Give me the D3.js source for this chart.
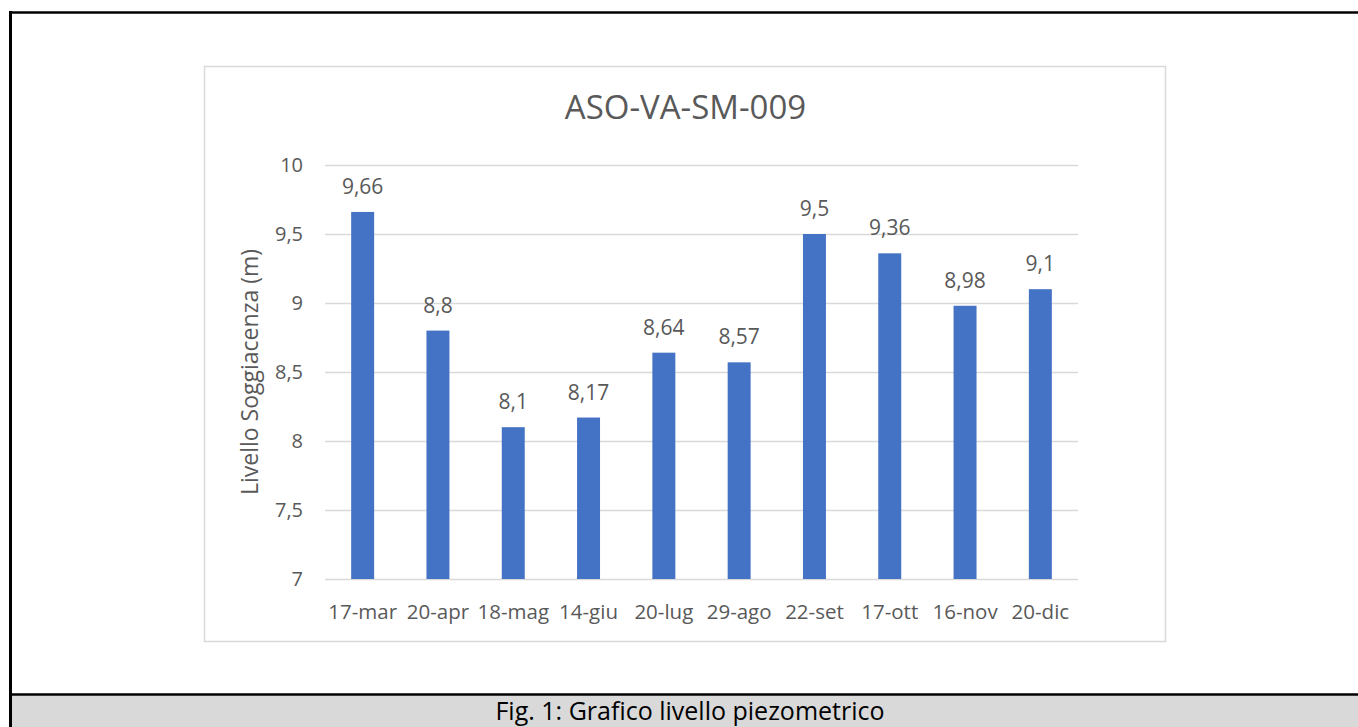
<!DOCTYPE html>
<html>
<head>
<meta charset="utf-8">
<script src="https://cdn.jsdelivr.net/npm/d3@7"></script>
<style>
  body { margin: 0; background: #fff; }
  svg { display: block; }
</style>
</head>
<body>
<script>
// dati
var dates = ["17-mar", "20-apr", "18-mag", "14-giu", "20-lug", "29-ago", "22-set", "17-ott", "16-nov", "20-dic"];
var levels = [9.66, 8.8, 8.1, 8.17, 8.64, 8.57, 9.5, 9.36, 8.98, 9.1];
var yTicks = [7, 7.5, 8, 8.5, 9, 9.5, 10];
var chartTitle = "ASO-VA-SM-009";
var yTitle = "Livello Soggiacenza (m)";
var caption = "Fig. 1: Grafico livello piezometrico";

var W = 1358, H = 727;
var font = "'Open Sans', sans-serif";
var textColor = "#595959";

var svg = d3.select("body").append("svg")
    .attr("width", W)
    .attr("height", H);

// cornice della figura
svg.append("rect")
    .attr("x", 10).attr("y", 695)
    .attr("width", W).attr("height", H - 695)
    .attr("fill", "#d9d9d9");
svg.append("line")
    .attr("x1", 10).attr("x2", W).attr("y1", 12.5).attr("y2", 12.5)
    .attr("stroke", "#000").attr("stroke-width", 2.5);
svg.append("line")
    .attr("x1", 10).attr("x2", W).attr("y1", 694.5).attr("y2", 694.5)
    .attr("stroke", "#000").attr("stroke-width", 2.5);
svg.append("line")
    .attr("x1", 10.5).attr("x2", 10.5).attr("y1", 11).attr("y2", H)
    .attr("stroke", "#000").attr("stroke-width", 3);

svg.append("text")
    .attr("x", 690).attr("y", 720)
    .attr("text-anchor", "middle")
    .style("font-family", font)
    .style("font-size", "25px")
    .attr("fill", "#000")
    .text(caption);

// riquadro del grafico
svg.append("rect")
    .attr("x", 204.5).attr("y", 66.5)
    .attr("width", 961).attr("height", 575)
    .attr("fill", "#fff")
    .attr("stroke", "#d9d9d9").attr("stroke-width", 1.5);

var plot = { left: 325, right: 1078, top: 165, bottom: 579 };

var x = d3.scaleBand()
    .domain(dates)
    .range([plot.left, plot.right])
    .paddingInner(0.695)
    .paddingOuter(0.3475);

var y = d3.scaleLinear()
    .domain([7, 10])
    .range([plot.bottom, plot.top]);

// griglia
svg.append("g")
    .selectAll("line")
    .data(yTicks)
    .enter().append("line")
    .attr("x1", plot.left).attr("x2", plot.right)
    .attr("y1", function(d) { return Math.round(y(d)) + 0.5; })
    .attr("y2", function(d) { return Math.round(y(d)) + 0.5; })
    .attr("stroke", "#d9d9d9")
    .attr("stroke-width", 1.5);

// etichette asse y
svg.append("g")
    .selectAll("text")
    .data(yTicks)
    .enter().append("text")
    .attr("x", 303)
    .attr("y", function(d) { return y(d); })
    .attr("dy", "0.35em")
    .attr("text-anchor", "end")
    .style("font-family", font)
    .style("font-size", "20px")
    .attr("fill", textColor)
    .text(function(d) { return String(d).replace(".", ","); });

// barre
svg.append("g")
    .selectAll("rect")
    .data(levels)
    .enter().append("rect")
    .attr("x", function(d, i) { return x(dates[i]); })
    .attr("y", function(d) { return y(d); })
    .attr("width", x.bandwidth())
    .attr("height", function(d) { return y(7) - y(d); })
    .attr("fill", "#4472c4");

// valori sopra le barre
svg.append("g")
    .selectAll("text")
    .data(levels)
    .enter().append("text")
    .attr("x", function(d, i) { return x(dates[i]) + x.bandwidth() / 2; })
    .attr("y", function(d) { return y(d) - 18; })
    .attr("text-anchor", "middle")
    .style("font-family", font)
    .style("font-size", "21px")
    .attr("fill", textColor)
    .text(function(d) { return String(d).replace(".", ","); });

// etichette asse x
svg.append("g")
    .selectAll("text")
    .data(dates)
    .enter().append("text")
    .attr("x", function(d) { return x(d) + x.bandwidth() / 2; })
    .attr("y", 619)
    .attr("text-anchor", "middle")
    .style("font-family", font)
    .style("font-size", "20.5px")
    .attr("fill", textColor)
    .text(function(d) { return d; });

// titolo
svg.append("text")
    .attr("x", 685.5).attr("y", 118.5)
    .attr("text-anchor", "middle")
    .style("font-family", font)
    .style("font-size", "33px")
    .attr("fill", textColor)
    .text(chartTitle);

// titolo asse y
svg.append("text")
    .attr("transform", "translate(258," + ((plot.top + plot.bottom) / 2) + ") rotate(-90)")
    .attr("text-anchor", "middle")
    .style("font-family", font)
    .style("font-size", "23px")
    .attr("fill", textColor)
    .text(yTitle);
</script>
</body>
</html>
